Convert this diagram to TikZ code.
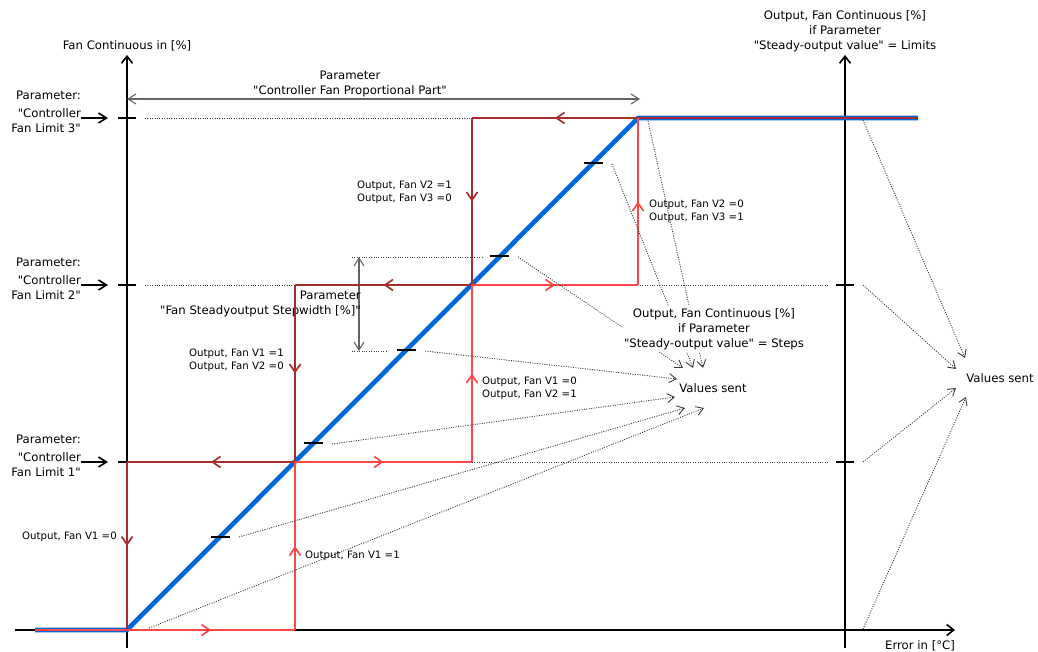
\documentclass[tikz,border=0pt]{standalone}
\usepackage{fontspec}
\setmainfont{DejaVu Sans}[Ligatures=TeXOff]
\usetikzlibrary{arrows.meta,decorations.markings}
\definecolor{fanblue}{RGB}{0,102,221}
\definecolor{coldred}{RGB}{165,45,45}
\definecolor{hotred}{RGB}{255,70,70}
\definecolor{dotgray}{RGB}{60,60,60}
\definecolor{dimgray}{RGB}{100,100,100}
\newcommand\mainfs{\fontsize{11.7}{15}\selectfont}
\newcommand\smallfs{\fontsize{10.2}{13}\selectfont}
\begin{document}
\begin{tikzpicture}[x=1pt,y=-1pt,
  axisline/.style={black, line width=1.6pt, -{Straight Barb[length=7pt,width=11pt]}},
  lblarrow/.style={black, line width=1.6pt, -{Straight Barb[length=8pt,width=10pt]}},
  coldline/.style={coldred, line width=1.7pt},
  hotline/.style={hotred, line width=1.7pt},
  midarr/.style={postaction={decorate}, decoration={markings, mark=at position 0.5 with {\arrow{Straight Barb[length=8pt,width=11pt]}}}},
  dotline/.style={dotgray, line width=0.9pt, dash pattern=on 1pt off 1.4pt},
  dotarr/.style={dotline, -{Straight Barb[length=7pt,width=9pt]}},
  dimarr/.style={dimgray, line width=1.1pt, {Straight Barb[length=8pt,width=10pt]}-{Straight Barb[length=8pt,width=10pt]}},
  mtxt/.style={font=\mainfs, inner sep=0pt, align=center},
  ltxt/.style={font=\mainfs, inner sep=0pt, align=right, anchor=east},
  stxt/.style={font=\smallfs, inner sep=0pt, align=left, anchor=west},
  tickmark/.style={black, line width=1.8pt}
]
\useasboundingbox (0,0) rectangle (1038,652);

% key points
\coordinate (w) at (35,630);
\coordinate (p0) at (127,630);
\coordinate (q1) at (295,630);
\coordinate (p1) at (295,462);
\coordinate (l1) at (127,462);
\coordinate (q2) at (472,462);
\coordinate (p2) at (472,285);
\coordinate (k2) at (295,285);
\coordinate (q3) at (638,285);
\coordinate (p3) at (638,118);
\coordinate (k3) at (472,118);
\coordinate (e) at (918,118);

% axes
\coordinate (xa0) at (15,630);  \coordinate (xa1) at (955,630);
\coordinate (ya0) at (127,648); \coordinate (ya1) at (127,55);
\coordinate (ra0) at (845,648); \coordinate (ra1) at (845,55);
\draw[axisline] (xa0) -- (xa1);
\draw[axisline] (ya0) -- (ya1);
\draw[axisline] (ra0) -- (ra1);

% axis ticks
\foreach \yy in {118,285,462,630} {
  \draw[tickmark] (118,\yy) -- (136,\yy);
  \draw[tickmark] (836,\yy) -- (854,\yy);
}

% dotted level lines
\draw[dotline] (145,118) -- (k3);
\draw[dotline] (145,285) -- (k2);
\draw[dotline] (640,285) -- (828,285);
\draw[dotline] (q2) -- (828,462);

% proportional part dimension
\coordinate (pp0) at (127,99); \coordinate (pp1) at (640,99);
\draw[dimarr] (pp0) -- (pp1);
\node[mtxt] (pplabel) at (350,84) {Parameter\\"Controller Fan Proportional Part"};

% stepwidth dimension
\draw[dotline] (352,257) -- (482,257);
\draw[dotline] (352,351) -- (388,351);
\coordinate (sw0) at (359,257); \coordinate (sw1) at (359,351);
\draw[dimarr] (sw0) -- (sw1);
\node[ltxt] (swlabel) at (361,304) {Parameter\\"Fan Steadyoutput Stepwidth [\%]"};

% blue characteristic
\draw[fanblue, line width=4.6pt, line join=round] (w) -- (p0) -- (p3) -- (e);

% cold (decreasing) path
\draw[coldline] (e) -- (p3);
\draw[coldline, midarr] (p3) -- (k3);
\draw[coldline, midarr] (k3) -- (p2);
\draw[coldline, midarr] (p2) -- (k2);
\draw[coldline, midarr] (k2) -- (p1);
\draw[coldline, midarr] (p1) -- (l1);
\draw[coldline, midarr] (l1) -- (p0);

% hot (increasing) path
\draw[hotline] (w) -- (p0);
\draw[hotline, midarr] (p0) -- (q1);
\draw[hotline, midarr] (q1) -- (p1);
\draw[hotline, midarr] (p1) -- (q2);
\draw[hotline, midarr] (q2) -- (p2);
\draw[hotline, midarr] (p2) -- (q3);
\draw[hotline, midarr] (q3) -- (p3);

% step marks on the diagonal
\foreach \xx/\yy in {220.4/536.6, 313.4/443.2, 406.7/349.8, 499.9/256.4, 593.1/163} {
  \draw[tickmark] (\xx-9.5,\yy) -- (\xx+9.5,\yy);
}

% dotted arrows to middle "Values sent"
\coordinate (s1) at (648,121); \coordinate (m1) at (703,368);
\coordinate (s2) at (612,164); \coordinate (m2) at (693,368);
\coordinate (s3) at (518,257); \coordinate (m3) at (683,368);
\coordinate (s4) at (425,351); \coordinate (m4) at (677,379);
\coordinate (s5) at (332,444); \coordinate (m5) at (675,397);
\coordinate (s6) at (239,537); \coordinate (m6) at (685,408);
\coordinate (s7) at (149,628); \coordinate (m7) at (704,408);
\foreach \i in {1,...,7} { \draw[dotarr] (s\i) -- (m\i); }

% dotted arrows to right "Values sent"
\coordinate (u1) at (863,120); \coordinate (r1) at (965,358);
\coordinate (u2) at (863,285); \coordinate (r2) at (956,369);
\coordinate (u3) at (863,462); \coordinate (r3) at (956,388);
\coordinate (u4) at (863,629); \coordinate (r4) at (966,397);
\foreach \i in {1,...,4} { \draw[dotarr] (u\i) -- (r\i); }

% texts
\node[mtxt] (yalabel) at (127,46) {Fan Continuous in [\%]};
\node[mtxt] (ralabel) at (845,31) {Output, Fan Continuous [\%]\\if Parameter\\"Steady-output value" = Limits};
\node[mtxt] (xalabel) at (920,646) {Error in [°C]};
\node[mtxt, fill=white, inner sep=2pt] (steplabel) at (714,329) {Output, Fan Continuous [\%]\\if Parameter\\"Steady-output value" = Steps};
\node[mtxt] (vsmid) at (713,388) {Values sent};
\node[mtxt] (vsright) at (1000,378) {Values sent};

\node[ltxt] (lim3) at (81,112) {Parameter:\\[3pt]"Controller\\Fan Limit 3"};
\node[ltxt] (lim2) at (81,279) {Parameter:\\[3pt]"Controller\\Fan Limit 2"};
\node[ltxt] (lim1) at (81,456) {Parameter:\\[3pt]"Controller\\Fan Limit 1"};
\coordinate (a3) at (108,118); \coordinate (a2) at (108,285); \coordinate (a1) at (108,462);
\draw[lblarrow] (lim3.east |- a3) -- (a3);
\draw[lblarrow] (lim2.east |- a2) -- (a2);
\draw[lblarrow] (lim1.east |- a1) -- (a1);

\node[stxt] (o23a) at (357,192.5) {Output, Fan V2 =1\\Output, Fan V3 =0};
\node[stxt] (o23b) at (649,211) {Output, Fan V2 =0\\Output, Fan V3 =1};
\node[stxt] (o12a) at (189,360.5) {Output, Fan V1 =1\\Output, Fan V2 =0};
\node[stxt] (o12b) at (482,388.5) {Output, Fan V1 =0\\Output, Fan V2 =1};
\node[stxt] (o1a) at (22,537) {Output, Fan V1 =0};
\node[stxt] (o1b) at (305,556) {Output, Fan V1 =1};
\end{tikzpicture}
\end{document}
